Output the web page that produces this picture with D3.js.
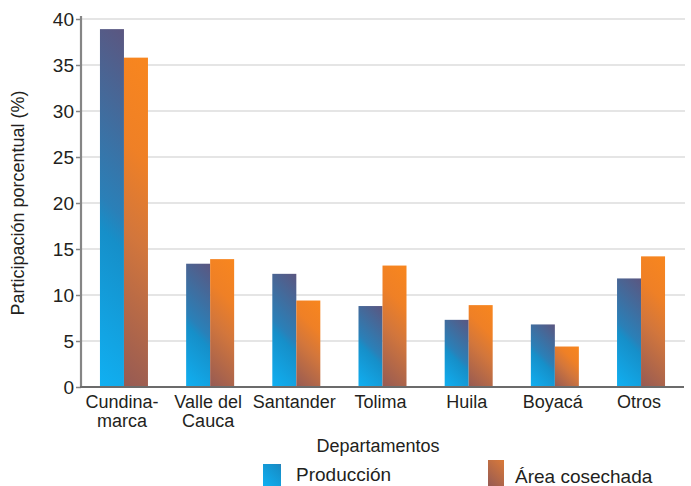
<!DOCTYPE html>
<html>
<head>
<meta charset="utf-8">
<script src="https://cdn.jsdelivr.net/npm/d3@7"></script>
<style>
  html, body { margin: 0; padding: 0; background: #fff; }
  svg text { font-family: 'Liberation Sans', Arial, Helvetica, sans-serif; fill: #231f20; }
</style>
</head>
<body>
<div id="chart"></div>
<script>
// Grouped bars: share of production vs harvested area by departamento.

const CATEGORIES = [
  ['Cundina-', 'marca'], ['Valle del', 'Cauca'], ['Santander'], ['Tolima'],
  ['Huila'], ['Boyacá'], ['Otros'],
];
const SERIES = ['Producción', 'Área cosechada'];
const PRODUCCION = [38.9, 13.4, 12.3, 8.8, 7.3, 6.8, 11.8];
const AREA = [35.8, 13.9, 9.4, 13.2, 8.9, 4.4, 14.2];
const Y_TICKS = [0, 5, 10, 15, 20, 25, 30, 35, 40];

// gradient stops, bottom-left -> top-right
const GRADS = [
  [['0', '#10b0f2'], ['0.42', '#168fc9'], ['0.5', '#2a80b8'], ['1', '#5b5680']],
  [['0', '#955a54'], ['0.45', '#d2763c'], ['0.7', '#ef8026'], ['1', '#f8861e']],
];

const W = 691, H = 486;
const M = { left: 81, right: 7, top: 19, bottom: 99 };

const svg = d3.select('#chart').append('svg')
  .attr('width', W).attr('height', H)
  .attr('viewBox', `0 0 ${W} ${H}`);
const defs = svg.append('defs');

const keys = CATEGORIES.map(c => c.join(' '));
const x = d3.scaleBand().domain(keys)
  .range([M.left, W - M.right])
  .paddingInner(0.443).paddingOuter(0.22);
const xs = d3.scaleBand().domain(SERIES).range([0, x.bandwidth()]);
const y = d3.scaleLinear().domain([0, 40]).range([H - M.bottom, M.top]);

// grid
svg.append('g').selectAll('line')
  .data(Y_TICKS.slice(1))
  .join('line')
  .attr('x1', M.left).attr('x2', W - M.right + 1)
  .attr('y1', d => y(d)).attr('y2', d => y(d))
  .attr('stroke', '#dcdcdc').attr('stroke-width', 1.5);

// bars
const rows = [];
keys.forEach((k, i) => {
  rows.push({ key: k, s: 0, v: PRODUCCION[i] });
  rows.push({ key: k, s: 1, v: AREA[i] });
});

function addGrad(id, s, bx, by, bw, bh) {
  // 45deg gradient in user space spanning the box
  const d = (bw + bh) / 2;
  const g = defs.append('linearGradient').attr('id', id)
    .attr('gradientUnits', 'userSpaceOnUse')
    .attr('x1', bx).attr('y1', by + bh)
    .attr('x2', bx + d).attr('y2', by + bh - d);
  GRADS[s].forEach(([o, c]) => g.append('stop').attr('offset', o).attr('stop-color', c));
}

rows.forEach((r, i) => {
  r.x = x(r.key) + xs(SERIES[r.s]);
  r.y = y(r.v);
  r.w = xs.bandwidth();
  r.h = y(0) - y(r.v);
  addGrad('g' + i, r.s, r.x, r.y, r.w, r.h);
});

svg.append('g').selectAll('rect')
  .data(rows)
  .join('rect')
  .attr('x', d => d.x).attr('y', d => d.y)
  .attr('width', d => d.w).attr('height', d => d.h)
  .attr('fill', (d, i) => `url(#g${i})`);

// y axis
const yAxis = d3.axisLeft(y).tickValues(Y_TICKS).tickSize(5).tickPadding(2);
svg.append('g')
  .attr('transform', `translate(${M.left},0)`)
  .call(yAxis)
  .call(ax => ax.select('.domain').attr('stroke', '#858585').attr('stroke-width', 2.2)
    .attr('d', `M0,${M.top - 3}V${y(0)}`))
  .call(ax => ax.selectAll('.tick line').attr('stroke', '#858585').attr('stroke-width', 1.5))
  .call(ax => ax.selectAll('.tick text').attr('font-size', 19).attr('fill', '#231f20')
    .attr('font-family', "'Liberation Sans', Arial, sans-serif"));

// x axis line
svg.append('line')
  .attr('x1', M.left - 1).attr('x2', W - M.right)
  .attr('y1', y(0)).attr('y2', y(0))
  .attr('stroke', '#6b6b6b').attr('stroke-width', 2);

// x tick labels
const xl = svg.append('g').selectAll('text')
  .data(CATEGORIES)
  .join('text')
  .attr('text-anchor', 'middle')
  .attr('font-size', 18)
  .attr('transform', (d, i) => `translate(${x(keys[i]) + x.bandwidth() / 2 - 2},408)`);
xl.selectAll('tspan')
  .data(d => d)
  .join('tspan')
  .attr('x', 0).attr('dy', (d, i) => i ? 19 : 0)
  .text(d => d);

// axis titles
svg.append('text')
  .attr('transform', `translate(24,${(y(0) + y(40)) / 2}) rotate(-90)`)
  .attr('text-anchor', 'middle').attr('font-size', 18)
  .text('Participación porcentual (%)');

svg.append('text')
  .attr('x', 378).attr('y', 452)
  .attr('text-anchor', 'middle').attr('font-size', 18)
  .text('Departamentos');

// legend
const LEG_X = [263, 488];
const LEG_Y = [464, 460];
SERIES.forEach((s, i) => {
  const bw = i ? 16 : 18, bh = H - LEG_Y[i];
  addGrad('leg' + i, i, LEG_X[i], LEG_Y[i] - 40, bw, bh + 40);
  svg.append('rect')
    .attr('x', LEG_X[i]).attr('y', LEG_Y[i])
    .attr('width', bw).attr('height', bh)
    .attr('fill', `url(#leg${i})`);
  svg.append('text')
    .attr('x', LEG_X[i] + (i ? 27 : 33)).attr('y', i ? 483 : 481)
    .attr('font-size', 19)
    .text(s);
});
</script>
</body>
</html>
